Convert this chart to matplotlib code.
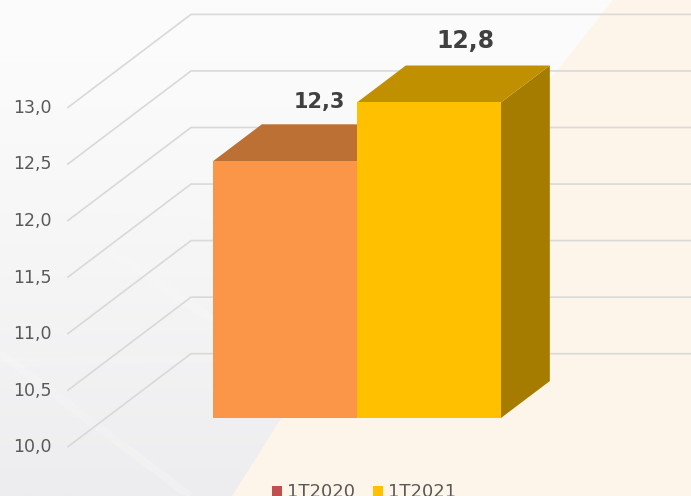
import numpy as np
import matplotlib
matplotlib.use('Agg')
import matplotlib.pyplot as plt
from matplotlib.patches import Polygon, Rectangle

series = ['1T2020', '1T2021']
values = [12.27, 12.79]
value_labels = ['12,3', '12,8']
ticks = [10.0, 10.5, 11.0, 11.5, 12.0, 12.5, 13.0]
tick_labels = ['10,0', '10,5', '11,0', '11,5', '12,0', '12,5', '13,0']

W, H = 691, 496
PX = 113.1            # pixels per value unit
Y0 = 446.7            # pixel row of value 10 at the front of the floor
DX, DY = 123, 93      # full depth of the 3D box, in pixels
XL = 68               # pixel column of the front-left corner

fig = plt.figure(figsize=(W / 100, H / 100), dpi=100)
ax = fig.add_axes([0, 0, 1, 1])
ax.set_xlim(0, W)
ax.set_ylim(10 - (H - Y0) / PX, 10 + Y0 / PX)
ax.axis('off')
ylo, yhi = ax.get_ylim()
def py(p):
    return 10 + (Y0 - p) / PX

def pt(x, v, d):
    """x pixel at the front, value v, depth fraction d -> axes data coordinates."""
    return (x + DX * d, v + DY * d / PX)

# background
grad = np.linspace(0, 1, 200)[:, None, None]
top = np.array([252, 252, 252]) / 255
bot = np.array([237, 237, 239]) / 255
img = top + (bot - top) * grad**1.3
ax.imshow(img, extent=[0, W, ylo, yhi], origin='upper', aspect='auto', zorder=0)
ax.set_xlim(0, W)
ax.set_ylim(ylo, yhi)
for a, b, c, e, al, lw in [(0, 363, 213, 359, .14, 6), (0, 353, 190, 496, .18, 6), (110, 250, 213, 320, .18, 6),
                           (0, 205, 213, 215, .12, 5)]:
    ax.plot([a, c], [py(b), py(e)], color='white', lw=lw, alpha=al, zorder=0.5, solid_capstyle='butt')
cream = [(232, 496), (280, 420), (613, 0), (691, 0), (691, 496)]
ax.add_patch(Polygon([(x, py(y)) for x, y in cream], closed=True, fc='#FDF5E9', ec='none', zorder=1))

# gridlines and tick labels
for t, lab in zip(ticks, tick_labels):
    front, back = pt(XL, t, 0), pt(XL, t, 1)
    ax.plot([front[0], back[0], W], [front[1], back[1], back[1]], color='#D9D9D9', lw=1.2,
            solid_joinstyle='miter', zorder=2)
    ax.text(52, t - 0.5 / PX, lab, ha='right', va='center', fontsize=12.5, color='#595959',
            family='DejaVu Sans', zorder=5)

# bars
BAR_W = 144
D_FRONT, D_BACK = 0.309, 0.706
face = ['#FB9648', '#FFC000']
topc = ['#BC7033', '#C09000']
side = ['#A56D30', '#A67C00']
for i, v in enumerate(values):
    xa = 213 + i * BAR_W - DX * D_FRONT
    xb = xa + BAR_W
    vb = ticks[0]
    fa = pt(xa, vb, D_FRONT); fb = pt(xb, vb, D_FRONT)
    ta = pt(xa, v, D_FRONT); tb = pt(xb, v, D_FRONT)
    ba = pt(xa, v, D_BACK); bb = pt(xb, v, D_BACK)
    floor_b = pt(xb, vb, D_BACK)
    z = 3 + i
    ax.add_patch(Polygon([tb, bb, floor_b, fb], closed=True, fc=side[i], ec='none', zorder=z))
    ax.add_patch(Polygon([ta, ba, bb, tb], closed=True, fc=topc[i], ec='none', zorder=z))
    ax.add_patch(Polygon([fa, ta, tb, fb], closed=True, fc=face[i], ec='none', zorder=z))

# value labels
for (lx, ly), lab, fs in zip([(319, 102), (465, 41)], value_labels, [15, 17]):
    ax.text(lx, py(ly), lab, ha='center', va='center', fontsize=fs, fontweight='bold',
            color='#404040', family='DejaVu Sans', zorder=6)

# legend, cut off by the bottom edge as in the source
for (sx, tx), name, col in zip([(272, 287), (373, 388)], series, ['#C0504D', '#FFC000']):
    ax.add_patch(Rectangle((sx, py(496)), 10, 10 / PX, fc=col, ec='none', zorder=6))
    ax.text(tx, py(497), name, ha='left', va='baseline', fontsize=13, color='#595959',
            family='DejaVu Sans', zorder=6)

fig.savefig('out.png', dpi=100)
